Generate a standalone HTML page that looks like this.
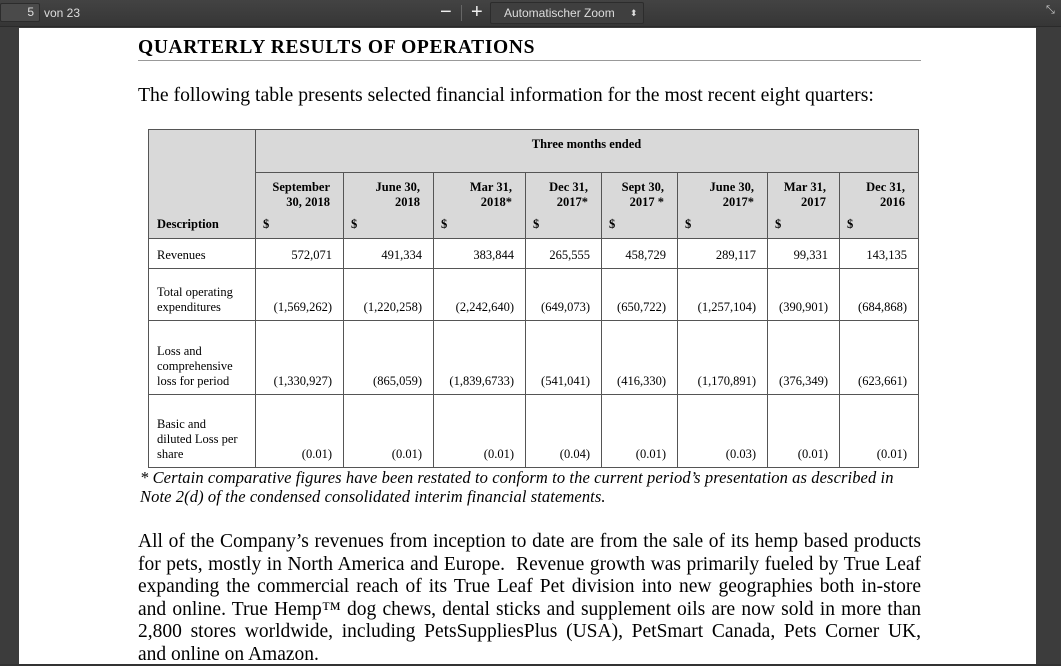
<!DOCTYPE html>
<html><head><meta charset="utf-8">
<style>
*{margin:0;padding:0;box-sizing:border-box}
body{width:1061px;height:666px;overflow:hidden;background:#3c3c3c;position:relative;font-family:"Liberation Serif",serif;color:#000}
.a{position:absolute;white-space:nowrap}
#toolbar{position:absolute;left:0;top:0;width:1061px;height:27px;background:linear-gradient(#434343,#363636);border-bottom:1px solid #2a2a2a;font-family:"Liberation Sans",sans-serif;color:#ddd;font-size:12px}
#page{position:absolute;left:19px;top:28px;width:1017px;height:636px;background:#fff}
.cell{position:absolute;border:1px solid #555}
.t{position:absolute;font-size:12.5px;line-height:15px;white-space:nowrap}
.b{font-weight:bold}
.r{text-align:right}
.ln{position:absolute;left:138px;width:783px;font-size:19.5px;line-height:22px;white-space:nowrap;text-align:justify;text-align-last:justify}
</style></head><body>
<div id="toolbar">
  <div class="a" style="left:0;top:3px;width:40px;height:19px;background:#4a4a4a;border:1px solid #2c2c2c;border-radius:2px;text-align:right;padding-right:5px;line-height:17px;font-size:12px">5</div>
  <div class="a" style="left:44px;top:6px">von 23</div>
  <div class="a" style="left:440px;top:1px;font-size:20px;line-height:22px;color:#eee">−</div>
  <div class="a" style="left:461px;top:5px;width:1px;height:16px;background:#666"></div>
  <div class="a" style="left:471px;top:1px;font-size:20px;line-height:22px;color:#eee">+</div>
  <div class="a" style="left:490px;top:2px;width:154px;height:22px;background:#3f3f3f;border:1px solid #2c2c2c;border-radius:2px;padding-left:13px;line-height:20px">Automatischer Zoom <span style="position:absolute;left:139px;font-size:9px">⬍</span></div>
  <div class="a" style="left:1046px;top:4px;font-size:11px;color:#ccc">⤡</div>
</div>
<div id="page"></div>

<div class="a b" style="left:138px;top:37px;font-size:19.5px;letter-spacing:0.65px;line-height:22px">QUARTERLY RESULTS OF OPERATIONS</div>
<div class="a" style="left:138px;top:60px;width:783px;height:1px;background:#999"></div>
<div class="a" style="left:138px;top:84px;font-size:19.7px">The following table presents selected financial information for the most recent eight quarters:</div>

<div id="table"></div>

<div class="a" style="left:140px;top:468px;font-size:16.5px;font-style:italic;line-height:19px;letter-spacing:0.1px">* Certain comparative figures have been restated to conform to the current period’s presentation as described in<br>Note 2(d) of the condensed consolidated interim financial statements.</div>

<div>
<div class="ln" style="top:531px">All of the Company’s revenues from inception to date are from the sale of its hemp based products</div>
<div class="ln" style="top:553.5px">for pets, mostly in North America and Europe.&nbsp; Revenue growth was primarily fueled by True Leaf</div>
<div class="ln" style="top:576px">expanding the commercial reach of its True Leaf Pet division into new geographies both in-store</div>
<div class="ln" style="top:598.5px">and online. True Hemp™ dog chews, dental sticks and supplement oils are now sold in more than</div>
<div class="ln" style="top:621px">2,800 stores worldwide, including PetsSuppliesPlus (USA), PetSmart Canada, Pets Corner UK,</div>
<div class="ln" style="top:643.5px;text-align-last:left">and online on Amazon.</div>
</div>
<div class="a" style="left:0;top:664px;width:1061px;height:2px;background:#333"></div>

<script>
const quarters=[["September","30, 2018"],["June 30,","2018"],["Mar 31,","2018*"],["Dec 31,","2017*"],["Sept 30,","2017 *"],["June 30,","2017*"],["Mar 31,","2017"],["Dec 31,","2016"]];
const rowLabels=[["Revenues"],["Total operating","expenditures"],["Loss and","comprehensive","loss for period"],["Basic and","diluted Loss per","share"]];
const revenues=["572,071","491,334","383,844","265,555","458,729","289,117","99,331","143,135"];
const opex=["(1,569,262)","(1,220,258)","(2,242,640)","(649,073)","(650,722)","(1,257,104)","(390,901)","(684,868)"];
const loss=["(1,330,927)","(865,059)","(1,839,6733)","(541,041)","(416,330)","(1,170,891)","(376,349)","(623,661)"];
const eps=["(0.01)","(0.01)","(0.01)","(0.04)","(0.01)","(0.03)","(0.01)","(0.01)"];
const rows=[revenues,opex,loss,eps];
const colX=[148,255,343,433,525,601,677,767,839,918];
const rowY=[129,172,238,268,320,394,467];
const T=document.getElementById('table');
function box(x,y,w,h,bg){const d=document.createElement('div');d.className='cell';d.style.cssText=`left:${x}px;top:${y}px;width:${w+1}px;height:${h+1}px;background:${bg}`;T.appendChild(d);return d;}
function txt(s,x,y,cls,extra){const d=document.createElement('div');d.className='t '+(cls||'');d.innerHTML=s;d.style.cssText=`left:${x}px;top:${y}px;`+(extra||'');T.appendChild(d);return d;}
let g=box(colX[0],rowY[0],colX[1]-colX[0],rowY[2]-rowY[0],'#d9d9d9');


g=box(colX[1],rowY[0],colX[9]-colX[1],rowY[1]-rowY[0],'#d9d9d9');


let h=txt('Three months ended',colX[1],rowY[0]+8,'b','width:'+(colX[9]-colX[1])+'px;text-align:center');


let dl=txt('Description',157,217,'b');


quarters.forEach((q,i)=>{
  const x=colX[i+1],w=colX[i+2]-x;
  const c=box(x,rowY[1],w,rowY[2]-rowY[1],'#d9d9d9');
  
  
  const t=txt(q[0]+'<br>'+q[1],x,180,'b r','width:'+(w-13)+'px');
  
  
  const s=txt('$',x+8,217,'b');
  
  
});
rows.forEach((vals,r)=>{
  const y0=rowY[r+2],y1=rowY[r+3],hgt=y1-y0;
  const lc=box(colX[0],y0,colX[1]-colX[0],hgt,'#fff');
  
  
  const lab=rowLabels[r];
  const lt=txt(lab.join('<br>'),157,y1-5-lab.length*15);
  
  
  vals.forEach((v,i)=>{
    const x=colX[i+1],w=colX[i+2]-x;
    const c=box(x,y0,w,hgt,'#fff');
    
    
    const vt=txt(v,x,y1-20,'r','width:'+(w-11)+'px');
    
    
  });
});
</script>
</body></html>
